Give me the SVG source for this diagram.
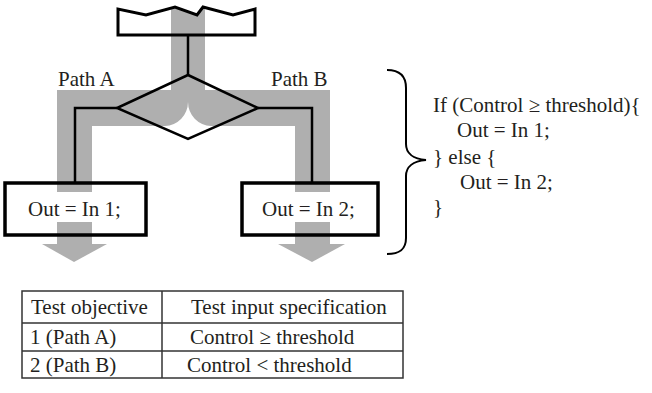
<svg xmlns="http://www.w3.org/2000/svg" width="652" height="393" viewBox="0 0 652 393">
<style>
text{font-family:"Liberation Serif","Times New Roman",serif;fill:#231f20;font-size:21px}
.band{fill:#afafaf}
.ln{stroke:#000;stroke-width:2.5;fill:none}
.nd{stroke:#000;fill:none}
.grid{stroke:#333;stroke-width:1.5;fill:none}
</style>
<g id="flow-paths">
<path class="band" d="M171,8 L175,7 L197,15 L203,7 L205,7.6 L205,90 L330,90 L330,192 L295,192 L295,126 L211,126 A23.5,24 0 0 1 188,102 A23.5,24 0 0 1 165,126 L92,126 L92,192 L57,192 L57,90 L171,90 Z"/>
<rect class="band" x="57" y="222" width="35" height="22"/>
<polygon class="band" points="42,244 107,244 74,262"/>
<rect class="band" x="295" y="222" width="35" height="22"/>
<polygon class="band" points="278,244 345,244 312,262"/>
</g>
<g id="connectors">
<line class="ln" x1="188" y1="35" x2="188" y2="75"/>
<polyline class="ln" points="117,108 75,108 75,183"/>
<polyline class="ln" points="258,108 312,108 312,183"/>
</g>
<g id="node-input">
<polygon class="nd" stroke-width="3" points="118,35 118,9 146,15 175,7 197,15 203,7 233,15 255,9 255,35"/>
</g>
<g id="node-decision">
<polygon class="nd" stroke-width="2.5" points="188,75 258,108 188,139 117,108"/>
</g>
<g id="node-out1">
<rect class="nd" stroke-width="3.5" x="5" y="183" width="141" height="52"/>
<text x="28" y="216">Out = In 1;</text>
</g>
<g id="node-out2">
<rect class="nd" stroke-width="3.5" x="242" y="183" width="136" height="52"/>
<text x="262" y="216">Out = In 2;</text>
</g>
<g id="path-labels">
<text x="58" y="86">Path A</text>
<text x="271" y="86">Path B</text>
</g>
<g id="code">
<path class="nd" stroke-width="2" d="M387,70 C399,70 406,76 406,88 L406,144 C406,153 413,159 426,160 C413,161 406,167 406,176 L406,238 C406,250 399,254 387,254"/>
<text x="433" y="112">If (Control ≥ threshold){</text>
<text x="457" y="137">Out = In 1;</text>
<text x="433" y="164">} else {</text>
<text x="460" y="189">Out = In 2;</text>
<text x="433" y="214">}</text>
</g>
<g id="table">
<rect class="grid" x="22" y="291" width="381" height="87"/>
<line class="grid" x1="162" y1="291" x2="162" y2="378"/>
<line class="grid" x1="22" y1="323" x2="403" y2="323"/>
<line class="grid" x1="22" y1="351" x2="403" y2="351"/>
<text x="31" y="314">Test objective</text>
<text x="191" y="314">Test input specification</text>
<text x="30" y="344">1 (Path A)</text>
<text x="190" y="344">Control ≥ threshold</text>
<text x="30" y="372">2 (Path B)</text>
<text x="187" y="372">Control &lt; threshold</text>
</g>
</svg>
